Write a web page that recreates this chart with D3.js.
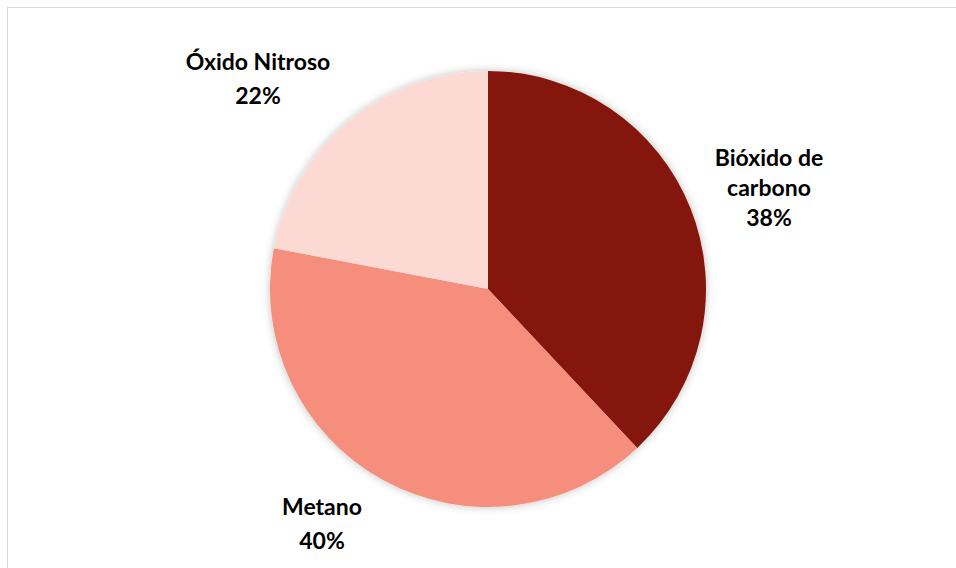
<!DOCTYPE html>
<html>
<head>
<meta charset="utf-8">
<script src="https://cdn.jsdelivr.net/npm/d3@7"></script>
<style>
  body { margin: 0; background: #fff; }
  svg text { font-family: Lato, "Open Sans", sans-serif; font-weight: bold; }
</style>
</head>
<body>
<div id="chart"></div>
<script>
var categories = ["Bióxido de carbono", "Metano", "Óxido Nitroso"];
var values = [38, 40, 22];
var labelLines = [["Bióxido de", "carbono", "38%"], ["Metano", "40%"], ["Óxido Nitroso", "22%"]];
var colors = ["#841808", "#f58e7b", "#fcd9d3"];

var width = 956, height = 568;
var svg = d3.select("#chart").append("svg").attr("width", width).attr("height", height);

// chart frame
svg.append("rect").attr("x", 7.5).attr("y", 7.5).attr("width", width).attr("height", height)
	.attr("fill", "none").attr("stroke", "#d9d9d9").attr("stroke-width", 1);

var defs = svg.append("defs");
var f = defs.append("filter").attr("id", "shadow").attr("x", "-10%").attr("y", "-10%").attr("width", "120%").attr("height", "120%");
f.append("feDropShadow").attr("dx", 0).attr("dy", 0).attr("stdDeviation", 4).attr("flood-color", "#000").attr("flood-opacity", 0.25);

var cx = 488, cy = 289, r = 218;
var pie = d3.pie().sort(null).value(function(d) { return d; });
var arcs = pie(values);
var arc = d3.arc().innerRadius(0).outerRadius(r);

var g = svg.append("g").attr("transform", "translate(" + cx + "," + cy + ")");
g.append("g").attr("filter", "url(#shadow)").selectAll("path").data(arcs).enter().append("path")
	.attr("d", arc)
	.attr("fill", function(d, i) { return colors[i]; });

// label centres (outside the pie, placed like the original)
var labelPos = [[769, 158], [322, 507], [258, 62]];

for (var i = 0; i < arcs.length; i++) {
	var lines = labelLines[i];
	var t = svg.append("text")
		.attr("text-anchor", "middle")
		.attr("font-size", 23)
		.attr("fill", "#000");
	for (var j = 0; j < lines.length; j++) {
		t.append("tspan")
			.attr("x", labelPos[i][0])
			.attr("y", labelPos[i][1] + j * (i == 0 ? 30 : 34) + 8)
			.text(lines[j]);
	}
}
</script>
</body>
</html>
